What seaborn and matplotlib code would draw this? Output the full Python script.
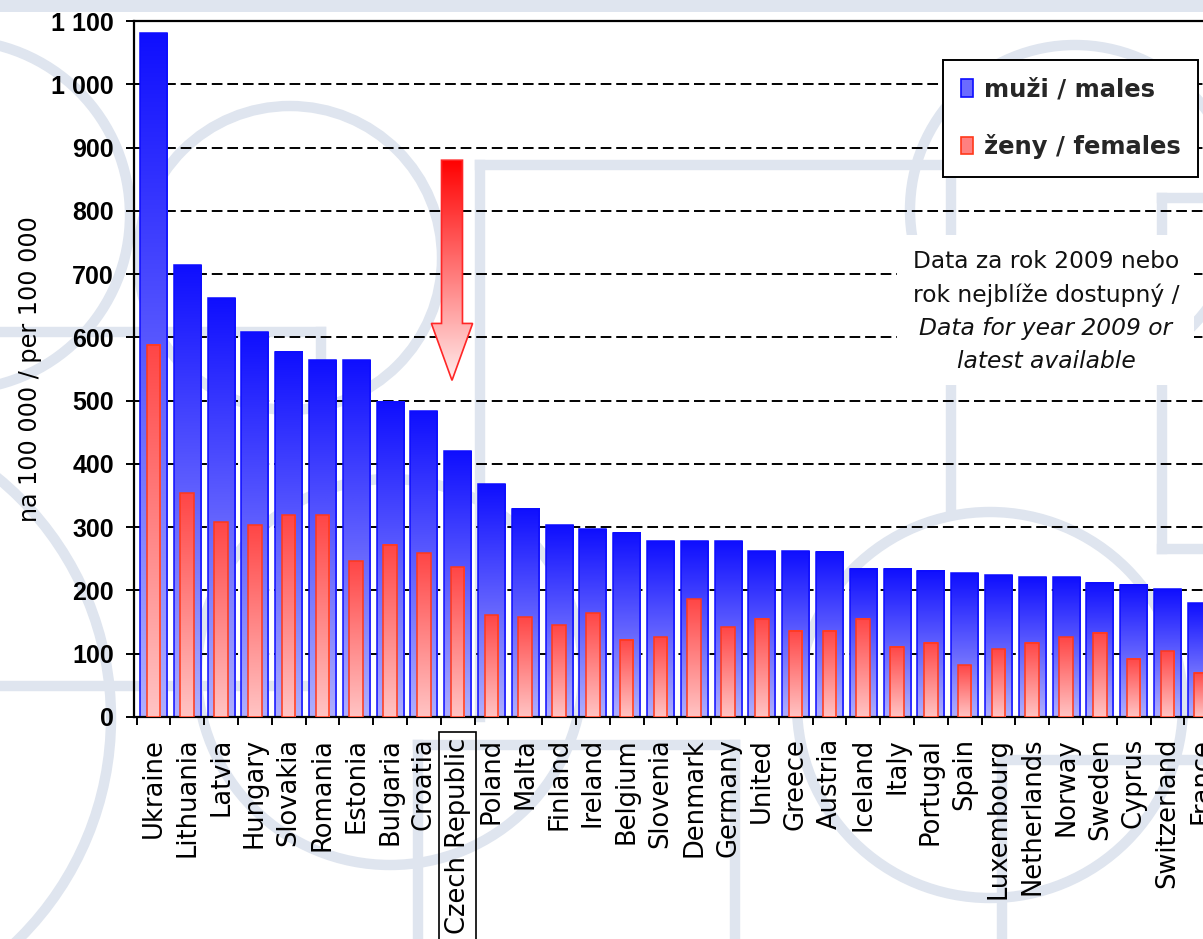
import numpy as np
import pandas as pd
import matplotlib
matplotlib.use("Agg")
import matplotlib.pyplot as plt
import seaborn as sns
from matplotlib import patches, transforms
from matplotlib.lines import Line2D

# ---------------- data ----------------
countries = ["Ukraine", "Lithuania", "Latvia", "Hungary", "Slovakia", "Romania",
             "Estonia", "Bulgaria", "Croatia", "Czech Republic", "Poland", "Malta",
             "Finland", "Ireland", "Belgium", "Slovenia", "Denmark", "Germany",
             "United", "Greece", "Austria", "Iceland", "Italy", "Portugal", "Spain",
             "Luxembourg", "Netherlands", "Norway", "Sweden", "Cyprus",
             "Switzerland", "France"]
males = [1081, 714, 662, 608, 577, 564, 564, 498, 483, 420, 368, 329,
         303, 297, 291, 278, 278, 278, 262, 262, 261, 234, 234, 231, 227,
         224, 221, 221, 212, 209, 202, 180]
females = [588, 354, 308, 303, 319, 319, 246, 272, 259, 237, 161, 158,
           145, 164, 122, 126, 186, 142, 155, 136, 136, 155, 111, 117, 82,
           107, 117, 126, 133, 92, 104, 70]
y_ticks = [0, 100, 200, 300, 400, 500, 600, 700, 800, 900, 1000, 1100]
y_tick_labels = ["0", "100", "200", "300", "400", "500", "600", "700", "800",
                 "900", "1 000", "1 100"]
legend_labels = ["muži / males", "ženy / females"]
y_label = "na 100 000 / per 100 000"
note_regular = ["Data za rok 2009 nebo", "rok nejblíže dostupný /"]
note_italic = ["Data for year 2009 or", "latest available"]
highlight = "Czech Republic"

# ---------------- setup ----------------
sns.set_theme(style="white")
plt.rcParams['font.family'] = ['DejaVu Sans']

W, H = 1203, 939
fig = plt.figure(figsize=(W / 100, H / 100), dpi=100, facecolor="white")
px = transforms.Affine2D().scale(1 / W, -1 / H).translate(0, 1) + fig.transFigure

# ---------------- watermark background ----------------
wm = "#dfe5ef"
wlw = 7.5


def band(x0, y0, x1, y1):
    fig.add_artist(Line2D([x0, x1], [y0, y1], transform=px, color=wm, lw=wlw,
                          zorder=-5, solid_capstyle="projecting"))


def ring(cx, cy, r):
    fig.add_artist(patches.Circle((cx, cy), r, transform=px, fill=False,
                                  ec=wm, lw=wlw, zorder=-5))


fig.add_artist(patches.Rectangle((0, 0), W, 12, transform=px, fc=wm, ec="none", zorder=-5))
ring(-45, 215, 175)
ring(290, 258, 152)
ring(-200, 718, 311)
ring(1075, 210, 165)
ring(990, 705, 193)
ring(390, 672, 193)
band(0, 332, 321, 332)
band(321, 332, 321, 700)
band(0, 686, 330, 686)
band(480, 165, 950, 165)
band(480, 165, 480, 717)
band(951, 165, 951, 513)
band(1162, 198, 1210, 198)
band(1162, 198, 1162, 549)
band(1162, 549, 1210, 549)
band(418, 745, 735, 745)
band(418, 745, 418, 945)
band(735, 745, 735, 945)
band(1002, 760, 1210, 760)
band(1002, 760, 1002, 945)

# ---------------- axes ----------------
left_px, top_px, bottom_px = 133.5, 21, 717
unit = 33.8
ax = fig.add_axes([left_px / W, 1 - bottom_px / H, 1 - left_px / W, (bottom_px - top_px) / H])
ax.set_facecolor("none")
x_left = -0.59
x_right = x_left + (W - left_px) / unit

df = pd.DataFrame({"country": countries, "males": males, "females": females})
sns.barplot(data=df, x="country", y="males", color="blue", width=0.8, ax=ax)
n_male = len(ax.patches)
sns.barplot(data=df, x="country", y="females", color="red", width=0.4, ax=ax)

male_top = np.array([15, 15, 255]) / 255
male_bot = np.array([175, 175, 253]) / 255
fem_top = np.array([255, 70, 70]) / 255
fem_bot = np.array([255, 196, 196]) / 255


def grad_fill(p, top, bot, z, edge):
    x0, y0 = p.get_x(), p.get_y()
    w, h = p.get_width(), p.get_height()
    t = np.linspace(0, 1, 256)[:, None]
    arr = (bot[None, :] * (1 - t) + top[None, :] * t).reshape(256, 1, 3)
    ax.imshow(arr, extent=[x0, x0 + w, y0, y0 + h], origin="lower",
              aspect="auto", interpolation="bilinear", zorder=z)
    p.set_facecolor("none")
    p.set_edgecolor(edge)
    p.set_linewidth(1.1)
    p.set_zorder(z + 0.1)


for i, p in enumerate(list(ax.patches)):
    if i < n_male:
        grad_fill(p, male_top, male_bot, 2, (0.05, 0.05, 1.0))
    else:
        grad_fill(p, fem_top, fem_bot, 3, (1.0, 0.22, 0.1))

# arrow pointing at the highlighted country
xc = x_left + (452 - left_px) / unit
sh, hh = 0.31, 0.61
verts = [(xc - sh, 880), (xc + sh, 880), (xc + sh, 622), (xc + hh, 622),
         (xc, 532), (xc - hh, 622), (xc - sh, 622)]
arrow = patches.Polygon(verts, closed=True, fc="none", ec=(1, 0.15, 0.15), lw=1.2, zorder=6)
ax.add_patch(arrow)
t = np.linspace(0, 1, 256)[:, None]
a_top = np.array([255, 0, 0]) / 255
a_bot = np.array([255, 236, 236]) / 255
arr = (a_bot[None, :] * (1 - t) + a_top[None, :] * t).reshape(256, 1, 3)
im = ax.imshow(arr, extent=[xc - hh, xc + hh, 532, 880], origin="lower",
               aspect="auto", interpolation="bilinear", zorder=5)
im.set_clip_path(arrow)

# grid & spines
ax.set_axisbelow(True)
ax.yaxis.grid(True, linestyle=(0, (5.5, 2.5)), color="black", lw=1.4)
ax.xaxis.grid(False)

for s in ["top", "left", "bottom"]:
    ax.spines[s].set_visible(True)
    ax.spines[s].set_color("black")
    ax.spines[s].set_linewidth(1.6)
ax.spines["right"].set_visible(False)

ax.set_yticks(y_ticks)
ax.set_yticklabels(y_tick_labels, fontfamily="Liberation Sans", fontweight="bold",
                   fontsize=18, color="black")
ax.tick_params(axis="y", left=True, direction="out", length=6, width=1.4,
               color="black", pad=8)

ax.set_xticks(range(len(countries)))
ax.set_xticklabels(countries, rotation=90, fontsize=18.5, color="black",
                   ha="center", va="top")
ax.set_xticks(np.arange(-0.5, len(countries), 1), minor=True)
ax.tick_params(axis="x", which="major", length=0, pad=15)
ax.tick_params(axis="x", which="minor", bottom=True, direction="out", length=6,
               width=1.4, color="black")
ax.set_xlabel("")
ax.set_ylabel("")

# limits last (set_ticks may expand them)
ax.set_xlim(x_left, x_right)
ax.set_ylim(0, 1100)

for lab in ax.get_xticklabels():
    if lab.get_text() == highlight:
        lab.set_bbox(dict(boxstyle="square,pad=0.22", fc="none", ec="black", lw=1.2))

# y label
fig.text(30, 369, y_label, transform=px, rotation=90, ha="center", va="center",
         fontsize=17.2, color="black")

# note with white background
ax.add_artist(patches.Rectangle((897, 235), 297, 150, transform=px, fc="white",
                                ec="none", zorder=4, clip_on=False))
ys = [262, 295, 328, 362]
for i, line in enumerate(note_regular + note_italic):
    fig.text(1046, ys[i], line, transform=px, ha="center", va="center",
             fontsize=16.8, style="italic" if i >= 2 else "normal", color="#111111",
             zorder=10)

# legend
handles = [patches.Patch(fc=(0.42, 0.42, 1.0), ec=(0.05, 0.05, 1.0), lw=1.2),
           patches.Patch(fc=(1.0, 0.5, 0.5), ec=(1.0, 0.22, 0.1), lw=1.2)]
leg = fig.legend(handles, legend_labels, loc="upper right",
                 bbox_to_anchor=(1198 / W, 1 - 60 / H), bbox_transform=fig.transFigure,
                 frameon=True, fancybox=False, edgecolor="black", framealpha=1,
                 prop=dict(family="DejaVu Sans", weight="bold", size=17.5),
                 handlelength=0.5, handleheight=0.7, handletextpad=0.45,
                 labelspacing=1.35, borderpad=0.72, borderaxespad=0)
leg.get_frame().set_linewidth(1.4)
leg.set_zorder(12)

fig.savefig("out.png", dpi=100, facecolor="white")
